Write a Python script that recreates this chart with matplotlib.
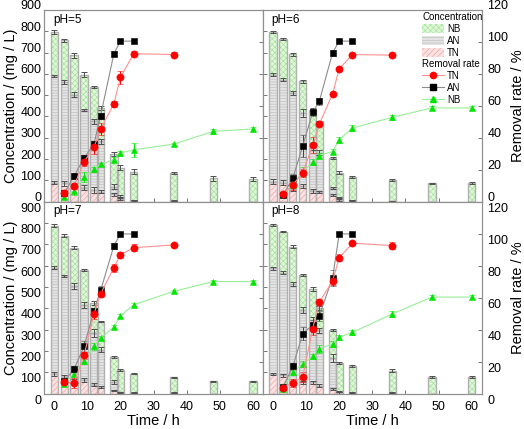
import matplotlib
matplotlib.use('Agg')
from matplotlib import pyplot as plt
from matplotlib.patches import Patch
from matplotlib.lines import Line2D
import matplotlib.transforms as mtransforms
import numpy as np

plt.rcParams['font.family'] = ['Liberation Sans', 'DejaVu Sans']
plt.rcParams['hatch.linewidth'] = 0.45

# sampling times (h)
times = [0, 3, 6, 9, 12, 14, 18, 20, 24, 36, 48, 60]
t_tn = [3, 6, 9, 12, 14, 18, 20, 24, 36]
t_an = [3, 6, 9, 12, 14, 18, 20, 24]
t_nb = [3, 6, 9, 12, 14, 18, 20, 24, 36, 48, 60]

# stacked bar tops (mg/L): TN at the bottom, AN above, NB on top
ph5_tn_top = [90, 87, 75, 66, 55, 47, 35, 15, 3, 2, 0, 0]
ph5_an_top = [592, 561, 503, 432, 377, 283, 71, 24, 5, 5, 0, 0]
ph5_nb_top = [796, 757, 687, 597, 539, 440, 225, 160, 141, 134, 110, 107]
ph6_tn_top = [94, 90, 60, 74, 50, 46, 32, 10, 3, 2, 0, 0]
ph6_an_top = [597, 573, 511, 417, 259, 230, 63, 16, 5, 3, 0, 0]
ph6_nb_top = [796, 765, 691, 565, 432, 377, 204, 137, 115, 102, 87, 87]
ph7_tn_top = [92, 76, 58, 65, 42, 30, 15, 3, 2, 2, 0, 0]
ph7_an_top = [591, 552, 505, 416, 284, 206, 53, 6, 3, 3, 0, 0]
ph7_nb_top = [788, 741, 685, 580, 424, 338, 172, 112, 94, 76, 58, 58]
ph8_tn_top = [92, 85, 51, 53, 53, 37, 22, 3, 2, 2, 0, 0]
ph8_an_top = [588, 568, 515, 393, 346, 296, 167, 8, 4, 4, 0, 0]
ph8_nb_top = [791, 760, 689, 557, 490, 401, 299, 144, 128, 108, 78, 78]

# bar error bars (mg/L)
ph5_tn_err = [8, 12, 10, 12, 15, 8, 6, 8, 3, 2, 0, 0]
ph5_an_err = [5, 10, 12, 4, 10, 10, 10, 8, 3, 2, 0, 0]
ph5_nb_err = [8, 8, 12, 12, 6, 10, 10, 10, 12, 6, 12, 8]
ph6_tn_err = [12, 10, 12, 8, 10, 4, 6, 6, 3, 2, 0, 0]
ph6_an_err = [5, 6, 10, 20, 15, 12, 4, 4, 2, 2, 0, 0]
ph6_nb_err = [6, 4, 6, 8, 6, 4, 4, 6, 6, 3, 2, 4]
ph7_tn_err = [8, 10, 10, 10, 6, 6, 4, 3, 2, 2, 0, 0]
ph7_an_err = [6, 6, 12, 15, 20, 12, 10, 3, 2, 2, 0, 0]
ph7_nb_err = [6, 6, 8, 4, 10, 4, 4, 4, 4, 4, 3, 3]
ph8_tn_err = [6, 6, 10, 8, 8, 6, 4, 3, 2, 2, 0, 0]
ph8_an_err = [6, 6, 8, 15, 15, 12, 20, 3, 2, 2, 0, 0]
ph8_nb_err = [4, 4, 6, 6, 8, 10, 6, 4, 4, 6, 4, 4]

# removal rates (%)
ph5_tn_rate = [5.7, 10, 25.1, 34, 45.5, 61.2, 77.9, 92.6, 92.1]
ph5_an_rate = [5.3, 16.1, 27.3, 36.2, 53.8, 92.6, 100.5, 100.5]
ph5_nb_rate = [3.2, 6.9, 15.3, 20.3, 23.5, 26.2, 30.4, 32.5, 36, 44, 45.5]
ph6_tn_rate = [4.8, 10.5, 18.2, 35.2, 48.6, 67.5, 83.2, 92.1, 91.7]
ph6_an_rate = [4.2, 14.7, 35, 55.9, 62.8, 93.2, 100.5, 100.5]
ph6_nb_rate = [4.6, 10.5, 18.8, 24.7, 28.9, 31.4, 38.8, 46.1, 52.8, 58.7, 58.7]
ph7_tn_rate = [7.1, 6.7, 23.9, 49.8, 62.4, 78.8, 86.8, 91.3, 93]
ph7_an_rate = [7.7, 15.4, 29.5, 51.8, 64.5, 92.4, 99.9, 99.9]
ph7_nb_rate = [6, 12.5, 20.2, 29.5, 34.8, 41.6, 48.7, 55.6, 63.9, 70.1, 70.1]
ph8_tn_rate = [3.6, 6.7, 10.4, 40.6, 57.2, 70.5, 85.1, 94.1, 92.6]
ph8_an_rate = [3.9, 17, 37.5, 43.1, 48.7, 72.6, 99.9, 99.9]
ph8_nb_rate = [2.9, 13.5, 18.5, 23.3, 28.1, 31, 35.2, 38.3, 49.8, 60.4, 60.4]

# rate error bars (%)
ph5_tn_rerr = [1.5, 2, 2.5, 4, 4, 2, 4, 1.5, 1.5]
ph5_an_rerr = [1, 2, 2, 2, 2, 1.5, 1, 1]
ph5_nb_rerr = [1.5, 2.5, 3, 1.5, 1, 1.5, 1.5, 4.5, 1, 1.5, 1.5]
ph6_tn_rerr = [1.5, 3, 2.5, 5, 1, 1, 1, 1, 1]
ph6_an_rerr = [1, 2.5, 7, 2, 2, 2, 1, 1]
ph6_nb_rerr = [1.5, 2, 3, 2, 1.5, 1.5, 2, 2, 1.5, 1, 1]
ph7_tn_rerr = [2, 3, 2, 3, 2, 2.5, 2, 2, 1]
ph7_an_rerr = [1, 2, 3.5, 2, 3, 2, 1, 1]
ph7_nb_rerr = [1.5, 2, 2, 2, 1.5, 1.5, 1, 1, 1, 1, 1]
ph8_tn_rerr = [1.5, 2.5, 3, 4, 2, 2.5, 2, 1, 2]
ph8_an_rerr = [1, 2, 4, 3, 3, 5, 1, 1]
ph8_nb_rerr = [1, 2, 2, 1.5, 2.5, 2, 1.5, 1.5, 2, 1.5, 1.5]

ph_labels = ['pH=5', 'pH=6', 'pH=7', 'pH=8']

panels = [
    (ph5_tn_top, ph5_an_top, ph5_nb_top, ph5_tn_err, ph5_an_err, ph5_nb_err,
     ph5_tn_rate, ph5_an_rate, ph5_nb_rate, ph5_tn_rerr, ph5_an_rerr, ph5_nb_rerr),
    (ph6_tn_top, ph6_an_top, ph6_nb_top, ph6_tn_err, ph6_an_err, ph6_nb_err,
     ph6_tn_rate, ph6_an_rate, ph6_nb_rate, ph6_tn_rerr, ph6_an_rerr, ph6_nb_rerr),
    (ph7_tn_top, ph7_an_top, ph7_nb_top, ph7_tn_err, ph7_an_err, ph7_nb_err,
     ph7_tn_rate, ph7_an_rate, ph7_nb_rate, ph7_tn_rerr, ph7_an_rerr, ph7_nb_rerr),
    (ph8_tn_top, ph8_an_top, ph8_nb_top, ph8_tn_err, ph8_an_err, ph8_nb_err,
     ph8_tn_rate, ph8_an_rate, ph8_nb_rate, ph8_tn_rerr, ph8_an_rerr, ph8_nb_rerr),
]

bar_styles = {
    'NB': dict(face='#e2f7da', hatch='xxxxxx', hcolor='#9fe397'),
    'AN': dict(face='#e4e4e4', hatch='------', hcolor='#bdbdbd'),
    'TN': dict(face='#fbe2e2', hatch='//////', hcolor='#f2a0a0'),
}
outline = '#b0b0b0'
bar_w = 2.2

fig = plt.figure(figsize=(5.24, 4.29), dpi=100)
lefts = [0.0845, 0.5019]
bottoms = [0.5298, 0.0826]
w, h = 0.4174, 0.4470


def draw_bars(ax, bottom, top, style):
    bottom = np.asarray(bottom, float)
    height = np.asarray(top, float) - bottom
    ax.bar(times, height, bar_w, bottom=bottom, color=style['face'],
           hatch=style['hatch'], edgecolor=style['hcolor'], linewidth=0, zorder=2)
    ax.bar(times, height, bar_w, bottom=bottom, fill=False,
           edgecolor=outline, linewidth=1.0, zorder=3)


def shift_labels(labels, dy_pt):
    off = mtransforms.ScaledTranslation(0, dy_pt / 72, fig.dpi_scale_trans)
    for lab in labels:
        lab.set_transform(lab.get_transform() + off)


legend_ax = None
for k, data in enumerate(panels):
    (tn_top, an_top, nb_top, tn_err, an_err, nb_err,
     tn_rate, an_rate, nb_rate, tn_rerr, an_rerr, nb_rerr) = data
    row, col = divmod(k, 2)
    ax = fig.add_axes([lefts[col], bottoms[row], w, h])
    ax2 = ax.twinx()

    draw_bars(ax, np.zeros(len(times)), tn_top, bar_styles['TN'])
    draw_bars(ax, tn_top, an_top, bar_styles['AN'])
    draw_bars(ax, an_top, nb_top, bar_styles['NB'])
    for top, err in [(tn_top, tn_err), (an_top, an_err), (nb_top, nb_err)]:
        top = np.where(np.asarray(top) > 0, top, np.nan)
        ax.errorbar(times, top, yerr=err, fmt='none', ecolor='#505050',
                    elinewidth=0.7, capsize=2, capthick=0.7, zorder=4)

    ax2.errorbar(t_nb, nb_rate, yerr=nb_rerr, color='#98ee98', lw=0.8,
                 marker='^', ms=5, mew=0.4, mfc='#00e600', mec='#00e600',
                 ecolor='#00e600', elinewidth=0.7, capsize=2, capthick=0.7)
    ax2.errorbar(t_an, an_rate, yerr=an_rerr, color='#8c8c8c', lw=0.8,
                 marker='s', ms=4.5, mew=0.4, mfc='black', mec='black',
                 ecolor='#404040', elinewidth=0.7, capsize=2, capthick=0.7)
    ax2.errorbar(t_tn, tn_rate, yerr=tn_rerr, color='#ff9090', lw=0.8,
                 marker='o', ms=5.2, mew=0.4, mfc='#ff0000', mec='#ff0000',
                 ecolor='#ff0000', elinewidth=0.7, capsize=2, capthick=0.7)

    ax.set_xlim(-3, 63)
    ax.set_ylim(0, 900)
    ax2.set_ylim(0, 120)
    ax.set_xticks([0, 10, 20, 30, 40, 50, 60])
    ax.set_yticks(range(0, 901, 100))
    ax2.set_yticks(range(0, 121, 20))
    ax.tick_params(direction='in', length=3, width=0.6, labelsize=9, pad=2,
                   color='#606060')
    ax.tick_params(axis='x', pad=5)
    ax2.tick_params(direction='in', length=3, width=0.6, labelsize=9, pad=4,
                    color='#606060')
    for a in (ax, ax2):
        for s in a.spines.values():
            s.set_color('#909090')
            s.set_linewidth(0.8)

    if col == 0:
        ax.set_ylabel('Concentration / (mg / L)', fontsize=10.5, labelpad=2)
        ax2.tick_params(labelright=False)
    else:
        ax.tick_params(labelleft=False)
        ax2.set_ylabel('Removal rate / %', fontsize=10.5, labelpad=2)
    if row == 0:
        ax.tick_params(labelbottom=False)
    else:
        ax.set_xlabel('Time / h', fontsize=10.5, labelpad=1)

    ax.text(0.04, 0.95, ph_labels[k], transform=ax.transAxes, fontsize=8.5,
            ha='left', va='center')

    dy = 3.6 if row == 0 else -4.0
    shift_labels(ax.get_yticklabels(), dy)
    shift_labels(ax2.get_yticklabels(), dy)

    if k == 1:
        legend_ax = ax2

conc_handles = [Patch(facecolor=bar_styles[n]['face'], hatch=bar_styles[n]['hatch'],
                      edgecolor=bar_styles[n]['hcolor'], linewidth=0)
                for n in ['NB', 'AN', 'TN']]
rate_handles = [
    Line2D([], [], color='#ff9090', lw=0.8, marker='o', ms=4.5, mfc='#ff0000', mec='#ff0000'),
    Line2D([], [], color='#8c8c8c', lw=0.8, marker='s', ms=4, mfc='black', mec='black'),
    Line2D([], [], color='#98ee98', lw=0.8, marker='^', ms=4.5, mfc='#00e600', mec='#00e600'),
]
common = dict(frameon=False, fontsize=7, title_fontsize=7, alignment='left',
              handlelength=2.3, handleheight=1.0, labelspacing=0.2,
              borderpad=0, handletextpad=0.3, borderaxespad=0)
leg1 = legend_ax.legend(conc_handles, ['NB', 'AN', 'TN'], title='Concentration',
                        loc='upper left', bbox_to_anchor=(0.727, 0.99), **common)
legend_ax.add_artist(leg1)
legend_ax.legend(rate_handles, ['TN', 'AN', 'NB'], title='Removal rate',
                 loc='upper left', bbox_to_anchor=(0.727, 0.745), **common)

fig.savefig('out.png', dpi=100)
